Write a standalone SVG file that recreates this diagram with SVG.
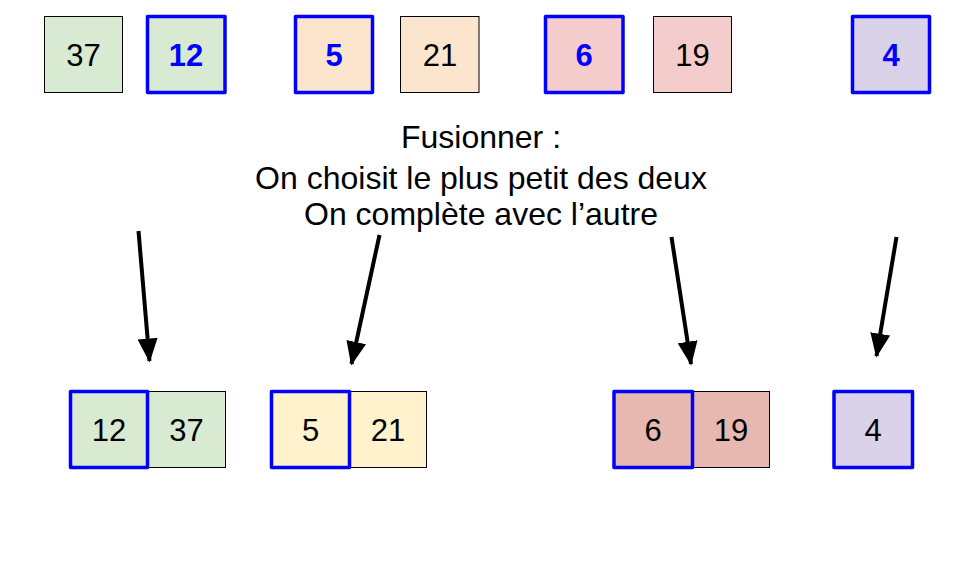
<svg xmlns="http://www.w3.org/2000/svg" width="960" height="573" viewBox="0 0 960 573">
<defs>
<style>
.b{stroke:#000;stroke-width:1}
.s{stroke:#0000ff;stroke-width:3.5;stroke-linejoin:round}
.t{font-family:"Liberation Sans",Arial,sans-serif;font-size:31px;text-anchor:middle;fill:#000}
.tb{font-family:"Liberation Sans",Arial,sans-serif;font-size:31px;text-anchor:middle;fill:#0000ff;font-weight:bold}
.g{fill:#d9ead3}.o{fill:#fce5cd}.p{fill:#f4cccc}.v{fill:#d9d2e9}.y{fill:#fff2cc}.r{fill:#e6b8af}
.lbl{font-family:"Liberation Sans",Arial,sans-serif;font-size:32px;text-anchor:middle;fill:#000}
.a{stroke:#000;stroke-width:4;fill:none}
</style>
<marker id="ah" markerWidth="6" markerHeight="5" refX="5.6" refY="2.5" orient="auto" markerUnits="strokeWidth">
<path d="M0,0 L6,2.5 L0,5 Z" fill="#000"/>
</marker>
</defs>
<rect width="960" height="573" fill="#fff"/>
<g id="top-37"><rect class="b g" x="44.5" y="16.5" width="78" height="76"/><text class="t" x="83.5" y="66">37</text></g>
<g id="top-12"><rect class="s g" x="147.5" y="16.5" width="77.5" height="76"/><text class="tb" x="186" y="66">12</text></g>
<g id="top-5"><rect class="s o" x="295.5" y="16.5" width="77" height="76"/><text class="tb" x="334" y="66">5</text></g>
<g id="top-21"><rect class="b o" x="400.5" y="16.5" width="78.5" height="76"/><text class="t" x="440" y="66">21</text></g>
<g id="top-6"><rect class="s p" x="545.5" y="16.5" width="77.5" height="76"/><text class="tb" x="584" y="66">6</text></g>
<g id="top-19"><rect class="b p" x="653.5" y="16.5" width="78" height="76"/><text class="t" x="692.5" y="66">19</text></g>
<g id="top-4"><rect class="s v" x="852.5" y="16.5" width="77" height="76"/><text class="tb" x="891" y="66">4</text></g>
<g id="label">
<text class="lbl" x="481" y="148">Fusionner :</text>
<text class="lbl" x="481" y="189">On choisit le plus petit des deux</text>
<text class="lbl" x="481" y="225">On complète avec l’autre</text>
</g>
<g id="connectors">
<line class="a" x1="138.5" y1="231" x2="149.5" y2="361" marker-end="url(#ah)"/>
<line class="a" x1="379.5" y1="235" x2="351.5" y2="364" marker-end="url(#ah)"/>
<line class="a" x1="671.5" y1="237" x2="691" y2="364" marker-end="url(#ah)"/>
<line class="a" x1="896.5" y1="237" x2="876.5" y2="356" marker-end="url(#ah)"/>
</g>
<g id="bot-12-37">
<rect class="b g" x="147.5" y="391.5" width="78" height="76"/><text class="t" x="186.5" y="441">37</text>
<rect class="s g" x="70.5" y="391.5" width="77" height="76"/><text class="t" x="109" y="441">12</text>
</g>
<g id="bot-5-21">
<rect class="b y" x="349.5" y="391.5" width="77" height="76"/><text class="t" x="388" y="441">21</text>
<rect class="s y" x="271.5" y="391.5" width="78" height="76"/><text class="t" x="310.5" y="441">5</text>
</g>
<g id="bot-6-19">
<rect class="b r" x="692.5" y="391.5" width="77" height="76"/><text class="t" x="731" y="441">19</text>
<rect class="s r" x="614" y="391.5" width="78.5" height="76"/><text class="t" x="653" y="441">6</text>
</g>
<g id="bot-4"><rect class="s v" x="834" y="391.5" width="78.5" height="76"/><text class="t" x="873" y="441">4</text></g>
</svg>
